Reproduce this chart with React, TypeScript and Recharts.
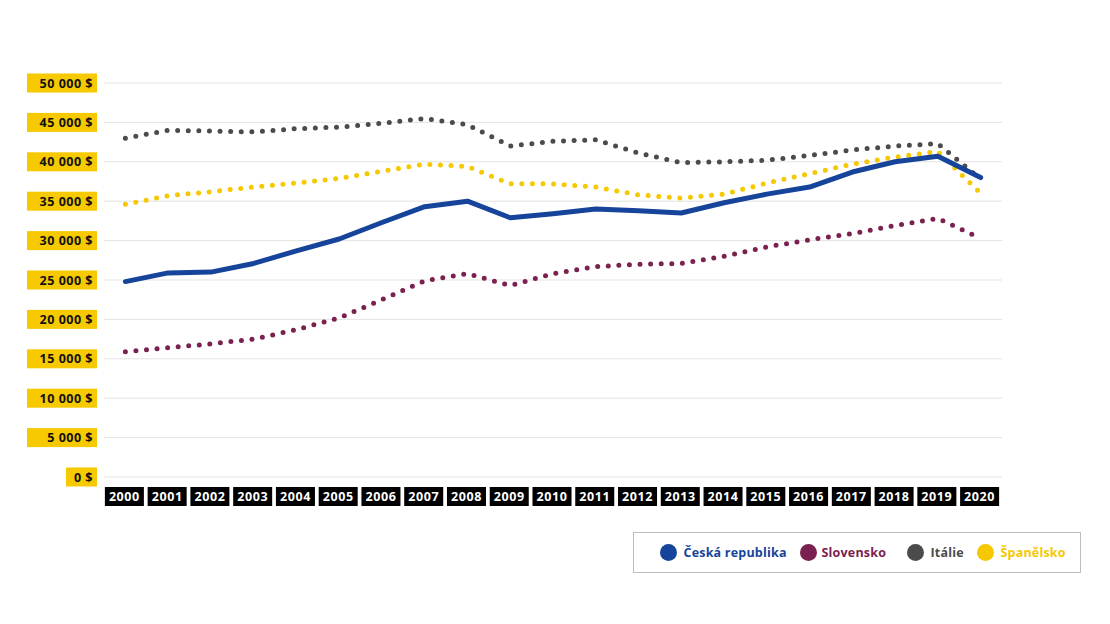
import React from "react";
import { ComposedChart, Line, XAxis, YAxis, CartesianGrid, Legend } from "recharts";

const years = ["2000","2001","2002","2003","2004","2005","2006","2007","2008","2009","2010","2011","2012","2013","2014","2015","2016","2017","2018","2019","2020"];
const czech = [24800,25900,26000,27100,28700,30200,32300,34300,35000,32900,33400,34000,33800,33500,34800,35900,36800,38700,40000,40700,38000];
const slovakia = [15900,16400,16900,17500,18700,20200,22500,24900,25800,24300,25800,26700,27000,27100,28000,29200,30100,30900,31900,32800,30300];
const italy = [43000,44000,43900,43800,44200,44400,44900,45500,44700,42000,42600,42800,41100,39900,40000,40200,40800,41500,42000,42300,37800];
const spain = [34600,35700,36200,36800,37300,37900,38800,39700,39400,37200,37200,36800,35800,35400,35900,37300,38500,39700,40600,41300,36000];
const yTicks = [0,5000,10000,15000,20000,25000,30000,35000,40000,45000,50000];

const series = [
  { key: "czech", name: "Česká republika", color: "#16449a", dotted: false },
  { key: "slovakia", name: "Slovensko", color: "#7b2150", dotted: true },
  { key: "italy", name: "Itálie", color: "#4b4b4b", dotted: true },
  { key: "spain", name: "Španělsko", color: "#f5c800", dotted: true },
];

const data = years.map((y, i) => ({
  year: y,
  czech: czech[i],
  slovakia: slovakia[i],
  italy: italy[i],
  spain: spain[i],
}));

const FONT = "'Open Sans', 'DejaVu Sans', sans-serif";
const YELLOW = "#f6c900";

const fmt = (v: number) => {
  if (v === 0) return "0 $";
  const th = Math.floor(v / 1000);
  const rest = String(v % 1000).padStart(3, "0");
  return `${th} ${rest} $`;
};

const LeftTick = (props: any) => {
  const { x, y, payload } = props;
  const label = fmt(payload.value);
  const w = payload.value === 0 ? 31 : 70;
  const right = x - 7;
  return (
    <g>
      <rect x={right - w} y={y - 9.5} width={w} height={19} fill={YELLOW} />
      <text x={right - 4} y={y} dy="0.36em" textAnchor="end" fontFamily={FONT} fontWeight={700} fontSize={12.5} letterSpacing={0.5} fill="#111">
        {label}
      </text>
    </g>
  );
};

const RightTick = (props: any) => {
  const { x, y, payload } = props;
  const label = fmt(payload.value);
  const w = payload.value === 0 ? 33 : 71;
  const left = x + 8;
  return (
    <g>
      <rect x={left} y={y - 9.5} width={w} height={19} fill={YELLOW} />
      <text x={left + 7} y={y} dy="0.36em" textAnchor="start" fontFamily={FONT} fontWeight={700} fontSize={12.5} letterSpacing={0.5} fill="#111">
        {label}
      </text>
    </g>
  );
};

const XTick = (props: any) => {
  const { x, y, payload } = props;
  return (
    <g>
      <rect x={x - 20.5} y={y + 10} width={39} height={19} fill="#000" />
      <text x={x - 1} y={y + 19.5} dy="0.36em" textAnchor="middle" fontFamily={FONT} fontWeight={700} fontSize={12.5} letterSpacing={0.6} fill="#fff">
        {payload.value}
      </text>
    </g>
  );
};

const legendLeft = [26.5, 166.5, 273.5, 343.5];

const LegendContent = () => (
  <div
    style={{
      position: "relative",
      boxSizing: "border-box",
      width: 448,
      height: 41,
      border: "1px solid #bdbdbd",
      fontFamily: FONT,
      fontWeight: 700,
      fontSize: 12.5,
    }}
  >
    {series.map((s, i) => (
      <div
        key={s.key}
        style={{
          position: "absolute",
          left: legendLeft[i] - 1,
          top: 0,
          height: 39,
          display: "flex",
          alignItems: "center",
          whiteSpace: "nowrap",
        }}
      >
        <span style={{ width: 17, height: 17, borderRadius: "50%", background: s.color, display: "inline-block", marginRight: i === 1 ? 5 : 7 }} />
        <span style={{ color: s.color, letterSpacing: 0.2 }}>{s.name}</span>
      </div>
    ))}
  </div>
);

export default function App() {
  return (
    <div style={{ position: "absolute", left: 0, top: 0, width: 1110, height: 624, background: "#fff" }}>
      <ComposedChart
        width={1110}
        height={624}
        data={data}
        margin={{ top: 83, right: 8, bottom: 107, left: 4 }}
      >
        <CartesianGrid yAxisId="left" horizontal vertical={false} stroke="#e3e3e3" strokeWidth={1} />
        <XAxis
          dataKey="year"
          scale="band"
          height={40}
          tickLine={false}
          axisLine={false}
          tickSize={0}
          tickMargin={0}
          interval={0}
          tick={<XTick />}
        />
        <YAxis
          yAxisId="left"
          orientation="left"
          width={100}
          domain={[0, 50000]}
          ticks={yTicks}
          tickLine={false}
          axisLine={false}
          tickSize={0}
          tickMargin={0}
          interval={0}
          tick={<LeftTick />}
        />
        <YAxis
          yAxisId="right"
          orientation="right"
          width={100}
          domain={[0, 50000]}
          ticks={yTicks}
          tickLine={false}
          axisLine={false}
          tickSize={0}
          tickMargin={0}
          interval={0}
          tick={<RightTick />}
        />
        <Legend
          layout="horizontal"
          align="center"
          verticalAlign="middle"
          content={<LegendContent />}
          wrapperStyle={{ left: 633, top: 532, width: 448, height: 41 }}
        />
        {series.slice().reverse().map((s) => (
          <Line
            key={s.key}
            yAxisId="left"
            dataKey={s.key}
            name={s.name}
            type="linear"
            stroke={s.color}
            strokeWidth={5}
            strokeDasharray={s.dotted ? "0 10.6" : undefined}
            strokeLinecap="round"
            strokeLinejoin="round"
            dot={false}
            activeDot={false}
            isAnimationActive={false}
          />
        ))}
      </ComposedChart>
    </div>
  );
}
